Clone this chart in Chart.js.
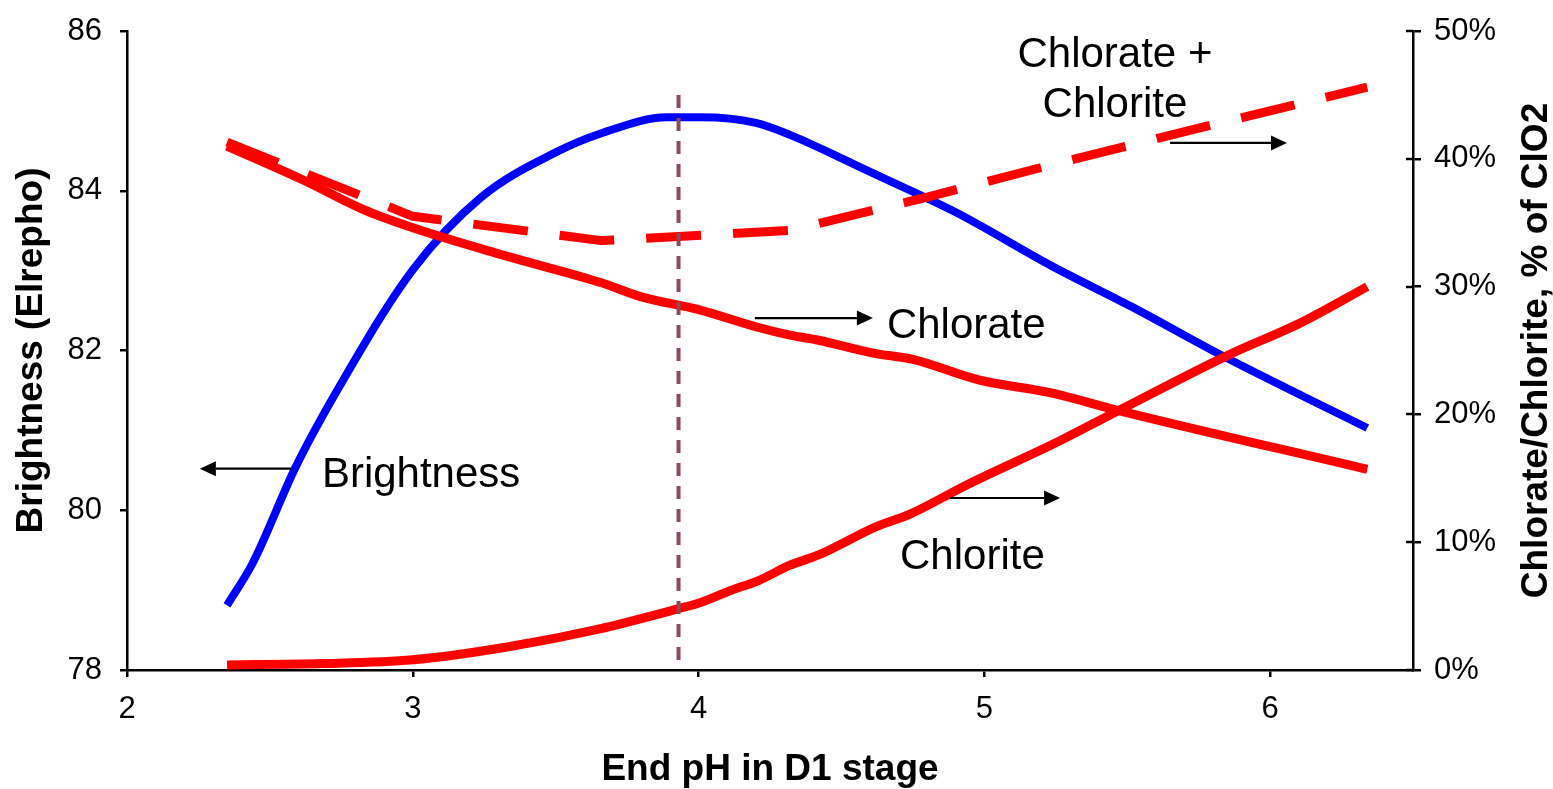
<!DOCTYPE html>
<html>
<head>
<meta charset="utf-8">
<title>Brightness and chlorate/chlorite vs end pH in D1</title>
<script src="https://cdn.jsdelivr.net/npm/chart.js@4.4.1/dist/chart.umd.min.js"></script>
<style>
  html, body { margin: 0; padding: 0; background: #fff; }
  #wrap { width: 1553px; height: 789px; position: relative; }
</style>
</head>
<body>
<div id="wrap"><canvas id="chart"></canvas></div>
<script>
var FONT = "'Liberation Sans', Arial, sans-serif";
var RED = '#ff0000';
var BLUE = '#0000ff';

// brightness (Elrepho), left axis
var brightPH   = [2.35, 2.44, 2.59, 2.75, 3.00, 3.24, 3.50, 3.66, 3.89, 4.01, 4.20, 4.32, 4.51, 4.61, 4.90, 5.24, 5.52, 5.83, 6.34];
var brightness = [78.81, 79.34, 80.54, 81.59, 83.01, 83.92, 84.48, 84.72, 84.92, 84.92, 84.85, 84.70, 84.39, 84.22, 83.73, 83.05, 82.54, 81.94, 81.03];

// chlorate, % of ClO2, right axis
var chloratePH = [2.35, 2.62, 2.83, 3.00, 3.31, 3.66, 3.80, 4.00, 4.21, 4.32, 4.42, 4.61, 4.75, 4.98, 5.23, 5.47, 6.34];
var chlorate   = [41.0, 38.3, 36.0, 34.6, 32.5, 30.3, 29.2, 28.2, 26.8, 26.2, 25.8, 24.8, 24.3, 22.7, 21.7, 20.3, 15.7];

// chlorite, % of ClO2, right axis
var chloritePH = [2.35, 2.68, 3.00, 3.33, 3.65, 3.93, 4.01, 4.11, 4.21, 4.32, 4.42, 4.62, 4.74, 4.94, 5.27, 5.47, 5.85, 6.11, 6.34];
var chlorite   = [0.4, 0.5, 0.8, 1.8, 3.2, 4.8, 5.3, 6.2, 7.0, 8.2, 9.0, 11.2, 12.2, 14.5, 18.0, 20.3, 24.6, 27.2, 30.0];

// chlorate + chlorite, dashed
var totalPH = [2.35, 3.00, 3.66, 4.32, 4.80, 5.23, 5.75, 6.34];
var total   = [41.3, 35.5, 33.6, 34.4, 37.0, 39.5, 42.4, 45.6];

// vertical marker at the brightness optimum
var markerPH    = [3.93, 3.93];
var markerLevel = [85.2, 78];

var xTicks  = [2, 3, 4, 5, 6];
var yTicks  = [78, 80, 82, 84, 86];
var y2Ticks = [0, 10, 20, 30, 40, 50];

// curve labels and their arrows, in axis units
var notes = [
    { text: 'Brightness', x: 2.682, y: 80.29, axis: 'y', align: 'left' },
    { text: 'Chlorate', x: 4.659, y: 25.98, axis: 'y2', align: 'left' },
    { text: 'Chlorite', x: 4.705, y: 7.90, axis: 'y2', align: 'left' },
    { text: 'Chlorate +', x: 5.457, y: 47.18, axis: 'y2', align: 'center' },
    { text: 'Chlorite', x: 5.457, y: 43.27, axis: 'y2', align: 'center' }
];
var arrows = [
    { from: 2.574, to: 2.255, y: 80.52, axis: 'y' },
    { from: 4.197, to: 4.610, y: 27.54, axis: 'y2' },
    { from: 4.880, to: 5.265, y: 13.46, axis: 'y2' },
    { from: 5.650, to: 6.059, y: 41.24, axis: 'y2' }
];

function points(xs, ys) {
    return xs.map(function (x, i) { return { x: x, y: ys[i] }; });
}

function fixedTicks(list) {
    return function (scale) {
        scale.ticks = list.map(function (v) { return { value: v }; });
    };
}

// keep the plot area where the axes are sized, not pushed down by label overhang
function fixedWidth(w) {
    return function (scale) {
        scale.width = w;
        scale.paddingTop = 0;
        scale.paddingBottom = 0;
    };
}

function drawArrow(ctx, x1, x2, y) {
    var dir = x2 > x1 ? 1 : -1;
    var head = 16;
    ctx.beginPath();
    ctx.moveTo(x1, y);
    ctx.lineTo(x2 - dir * head, y);
    ctx.stroke();
    ctx.beginPath();
    ctx.moveTo(x2, y);
    ctx.lineTo(x2 - dir * head, y - 7.5);
    ctx.lineTo(x2 - dir * head, y + 7.5);
    ctx.closePath();
    ctx.fill();
}

var overlay = {
    id: 'overlay',
    afterDraw: function (chart) {
        var ctx = chart.ctx;
        var area = chart.chartArea;
        var x = chart.scales.x;
        ctx.save();

        // right axis ticks cross the axis line
        ctx.strokeStyle = '#000';
        ctx.lineWidth = 2.5;
        y2Ticks.forEach(function (v) {
            var py = Math.round(chart.scales.y2.getPixelForValue(v));
            ctx.beginPath();
            ctx.moveTo(area.right, py);
            ctx.lineTo(area.right - 7, py);
            ctx.stroke();
        });

        ctx.fillStyle = '#000';
        ctx.lineWidth = 2.2;
        arrows.forEach(function (a) {
            var py = chart.scales[a.axis].getPixelForValue(a.y);
            drawArrow(ctx, x.getPixelForValue(a.from), x.getPixelForValue(a.to), py);
        });

        ctx.font = '42px ' + FONT;
        ctx.textBaseline = 'alphabetic';
        notes.forEach(function (n) {
            ctx.textAlign = n.align;
            ctx.fillText(n.text, x.getPixelForValue(n.x), chart.scales[n.axis].getPixelForValue(n.y));
        });

        // right axis title, read bottom to top
        ctx.font = 'bold 37px ' + FONT;
        ctx.textAlign = 'center';
        ctx.translate(1547, (area.top + area.bottom) / 2);
        ctx.rotate(-Math.PI / 2);
        ctx.fillText('Chlorate/Chlorite, % of ClO2', 0, 0);
        ctx.restore();
    }
};

Chart.defaults.font.family = FONT;
Chart.defaults.color = '#000';

var axisLine = { display: true, drawOnChartArea: false, drawTicks: true, color: '#000', lineWidth: 2.5 };

new Chart(document.getElementById('chart'), {
    type: 'line',
    data: {
        datasets: [
            { label: 'Optimum pH', data: points(markerPH, markerLevel), yAxisID: 'y',
              borderColor: '#8c4a5c', borderWidth: 4, borderDash: [13, 10], order: 0 },
            { label: 'Chlorate', data: points(chloratePH, chlorate), yAxisID: 'y2',
              borderColor: RED, borderWidth: 9, cubicInterpolationMode: 'monotone', order: 1 },
            { label: 'Chlorite', data: points(chloritePH, chlorite), yAxisID: 'y2',
              borderColor: RED, borderWidth: 9, cubicInterpolationMode: 'monotone', order: 1 },
            { label: 'Chlorate + Chlorite', data: points(totalPH, total), yAxisID: 'y2',
              borderColor: RED, borderWidth: 9, borderDash: [55, 32], borderCapStyle: 'butt', order: 1 },
            { label: 'Brightness', data: points(brightPH, brightness), yAxisID: 'y',
              borderColor: BLUE, borderWidth: 8, cubicInterpolationMode: 'monotone', order: 2 }
        ]
    },
    options: {
        responsive: true,
        maintainAspectRatio: false,
        animation: false,
        layout: { padding: { top: 31, left: 0, right: 0, bottom: 0 } },
        elements: {
            point: { radius: 0, hoverRadius: 0 },
            line: { tension: 0, borderJoinStyle: 'round', fill: false }
        },
        plugins: { legend: { display: false }, tooltip: { enabled: false } },
        scales: {
            x: {
                type: 'linear',
                min: 2,
                max: 6.5,
                afterBuildTicks: fixedTicks(xTicks),
                afterFit: function (scale) { scale.height = 119; },
                grid: Object.assign({ tickLength: 7 }, axisLine),
                border: { display: true, color: '#000', width: 2.5 },
                ticks: { font: { size: 31 }, padding: 14, maxRotation: 0 },
                title: { display: true, text: 'End pH in D1 stage', font: { size: 37, weight: 'bold', lineHeight: 1 }, padding: { top: 0, bottom: 1 } }
            },
            y: {
                position: 'left',
                min: 78,
                max: 86,
                afterBuildTicks: fixedTicks(yTicks),
                afterFit: fixedWidth(127),
                grid: Object.assign({ tickLength: 7 }, axisLine),
                border: { display: true, color: '#000', width: 2.5 },
                ticks: { font: { size: 31 }, padding: 18 },
                title: { display: true, text: 'Brightness (Elrepho)', font: { size: 37, weight: 'bold', lineHeight: 1 }, padding: { top: 13, bottom: 0 } }
            },
            y2: {
                position: 'right',
                min: 0,
                max: 50,
                afterBuildTicks: fixedTicks(y2Ticks),
                afterFit: fixedWidth(140),
                grid: Object.assign({ tickLength: 8 }, axisLine),
                border: { display: true, color: '#000', width: 2.5 },
                ticks: { font: { size: 31 }, padding: 13, callback: function (v) { return v + '%'; } }
            }
        }
    },
    plugins: [overlay]
});
</script>
</body>
</html>
